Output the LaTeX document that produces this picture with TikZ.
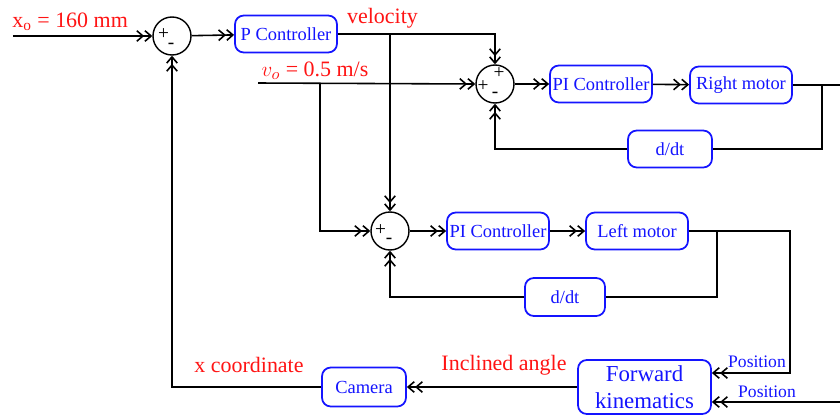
\documentclass[tikz,border=0pt]{standalone}
\usepackage{fontspec}
\setmainfont{Liberation Serif}
\usepackage{tikz}
\usetikzlibrary{arrows.meta, positioning, calc}
\definecolor{ctrlblue}{RGB}{20,20,255}
\definecolor{labelred}{RGB}{255,20,20}
\tikzset{
  ctrlblock/.style={rectangle, rounded corners=5pt, draw=ctrlblue, line width=1pt,
    text=ctrlblue, minimum width=2.04cm, minimum height=0.74cm, text centered,
    font=\fontsize{10.5}{12}\selectfont, inner sep=1pt},
  sumnode/.style={circle, draw, line width=0.8pt, minimum size=0.76cm, inner sep=0pt},
  arrow/.style={-{Straight Barb[length=3.5pt,width=6pt]Straight Barb[length=3.5pt,width=6pt]},
    line width=0.9pt},
  wire/.style={line width=0.9pt},
  redlabel/.style={text=labelred, font=\fontsize{12.5}{14}\selectfont, inner sep=0pt},
  poslabel/.style={text=ctrlblue, font=\fontsize{10}{12}\selectfont, inner sep=0pt},
  signlabel/.style={font=\fontsize{11}{11}\selectfont, inner sep=0pt},
}

\begin{document}
\begin{tikzpicture}
  \useasboundingbox[fill=white] (0,0) rectangle (16.8,-8.28);

  % outer position loop
  \node[sumnode] (sum1) at (3.44,-0.72) {};
  \node[signlabel] (sum1p) at ($(sum1)+(-0.17,0.04)$) {+};
  \node[signlabel] (sum1m) at ($(sum1)+(-0.02,-0.19)$) {-};
  \node[ctrlblock] (pctrl) at (5.72,-0.68) {P Controller};
  \coordinate (xin) at (0.26,-0.72);
  \node[redlabel, anchor=south west] (xlabel) at (0.24,-0.62) {x\textsubscript{o} = 160 mm};
  \node[redlabel] (vellabel) at (7.65,-0.36) {velocity};

  % right wheel
  \node[sumnode] (sum2) at (9.9,-1.68) {};
  \node[signlabel] (sum2a) at ($(sum2)+(-0.24,-0.04)$) {+};
  \node[signlabel] (sum2b) at ($(sum2)+(0.08,0.22)$) {+};
  \node[signlabel] (sum2m) at ($(sum2)+(0,-0.22)$) {-};
  \node[ctrlblock] (pir) at (12.02,-1.68) {PI Controller};
  \node[ctrlblock] (rmotor) at (14.82,-1.70) {Right motor};
  \node[ctrlblock, minimum width=1.68cm] (ddtr) at (13.4,-2.98) {d/dt};
  \coordinate (v0) at (5.16,-1.66);
  \node[redlabel] (v0label) at (6.3,-1.42) {$v_o$ = 0.5 m/s};
  \coordinate (rout) at (16.8,-1.70);

  % left wheel
  \node[sumnode] (sum3) at (7.8,-4.62) {};
  \node[signlabel] (sum3p) at ($(sum3)+(-0.19,0.02)$) {+};
  \node[signlabel] (sum3m) at ($(sum3)+(-0.02,-0.2)$) {-};
  \node[ctrlblock] (pil) at (9.96,-4.62) {PI Controller};
  \node[ctrlblock] (lmotor) at (12.74,-4.62) {Left motor};
  \node[ctrlblock, minimum width=1.6cm, minimum height=0.76cm] (ddtl) at (11.3,-5.94) {d/dt};

  % feedback from kinematics
  \node[ctrlblock, minimum width=1.68cm, minimum height=0.78cm] (camera) at (7.28,-7.74) {Camera};
  \node[ctrlblock, minimum width=2.66cm, minimum height=1.08cm, align=center,
        font=\fontsize{13}{15}\selectfont] (fk) at (12.89,-7.74) {Forward\\kinematics};
  \node[redlabel] (xcoord) at (4.98,-7.3) {x coordinate};
  \node[redlabel] (angle) at (10.08,-7.3) {Inclined angle};
  \node[poslabel] (pos1) at (15.14,-7.24) {Position};
  \node[poslabel] (pos2) at (15.34,-7.84) {Position};
  \coordinate (lturn) at (15.8,-7.46);
  \coordinate (pin) at (16.8,-8.04);

  \draw[arrow] (xin) -- (sum1);
  \draw[arrow] (sum1) -- (pctrl);
  \draw[arrow] (pctrl.east) -| (sum2.north);
  \draw[arrow] (pctrl.east -| sum3) -- (sum3.north);
  \draw[arrow] (v0) -- (sum2.west);
  \draw[arrow] (6.4,-1.66) |- (sum3.west);

  \draw[arrow] (sum2) -- (pir);
  \draw[arrow] (pir) -- (rmotor);
  \draw[wire] (rmotor.east) -- (rout);
  \draw[wire] (rmotor.east -| 16.44,0) |- (ddtr.east);
  \draw[arrow] (ddtr.west) -| (sum2.south);

  \draw[arrow] (sum3) -- (pil);
  \draw[arrow] (pil) -- (lmotor);
  \draw[arrow] (lmotor.east) -| (lturn) -- (lturn -| fk.east);
  \draw[wire] (lmotor.east -| 14.34,0) |- (ddtl.east);
  \draw[arrow] (ddtl.west) -| (sum3.south);

  \draw[arrow] (pin) -- (pin -| fk.east);
  \draw[arrow] (fk) -- (camera);
  \draw[arrow] (camera.west) -| (sum1.south);
\end{tikzpicture}
\end{document}
